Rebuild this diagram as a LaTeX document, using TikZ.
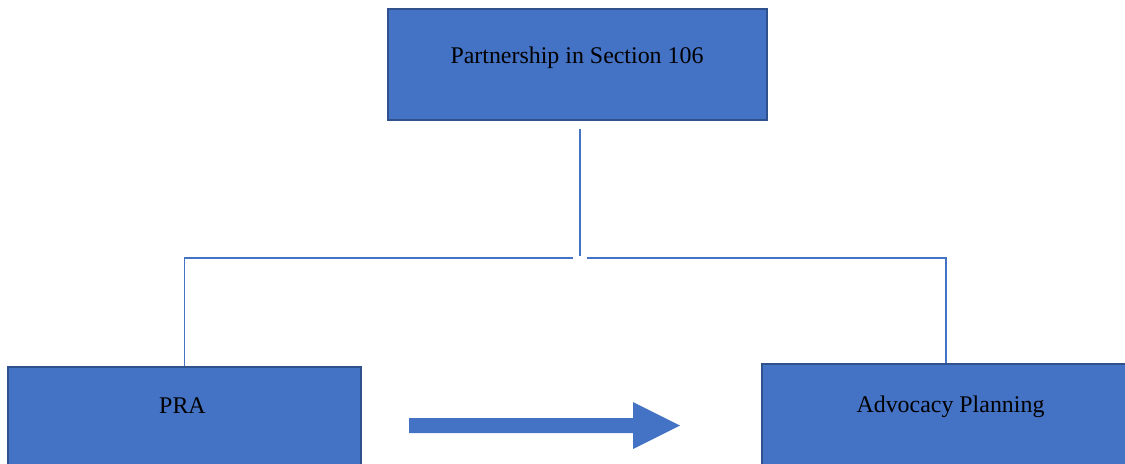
\documentclass[tikz,border=0pt]{standalone}
\usepackage{fontspec}
\setmainfont{Liberation Serif}
\definecolor{boxblue}{HTML}{4472C4}
\definecolor{boxedge}{HTML}{2F528F}
\begin{document}
\begin{tikzpicture}[x=.025cm,y=-.025cm,line join=miter,font=\fontsize{17}{20}\selectfont,
		box/.style={draw=boxedge,line width=1.3pt,fill=boxblue,inner sep=0pt,minimum height=2.775cm},
		link/.style={draw=boxblue,line width=.75pt},
		lbl/.style={anchor=base,inner sep=0pt}]
				\useasboundingbox (0,0) rectangle (1125,463);
				\clip (0,0) rectangle (1125,463);
				\node[box,minimum width=9.475cm] (partner) at (577.5,64.5) {};
				\node[box,minimum width=8.825cm] (pra) at (184.5,422.5) {};
				\node[box,minimum width=9.2cm] (adv) at (946,419.5) {};
				\node[lbl] (partnertxt) at (577,63) {Partnership in Section 106};
				\node[lbl] (pratxt) at (182.5,413) {PRA};
				\node[lbl] (advtxt) at (950.5,412) {Advocacy Planning};
				\path (580,258)coordinate(hub);
				\draw[link] ([yshift=-.2cm]partner.south -| hub) -- ([yshift=.06cm]hub);
				\draw[link] ([xshift=-.18cm]hub) -- (pra.north |- hub) -- (pra.north);
				\draw[link] ([xshift=.18cm]hub) -- (adv.north |- hub) -- (adv.north);
				\fill[boxblue] (409,418) -- (633,418) -- (633,402) -- (680,425.5) -- (633,449) -- (633,433) -- (409,433) -- cycle;
		\end{tikzpicture}
\end{document}
